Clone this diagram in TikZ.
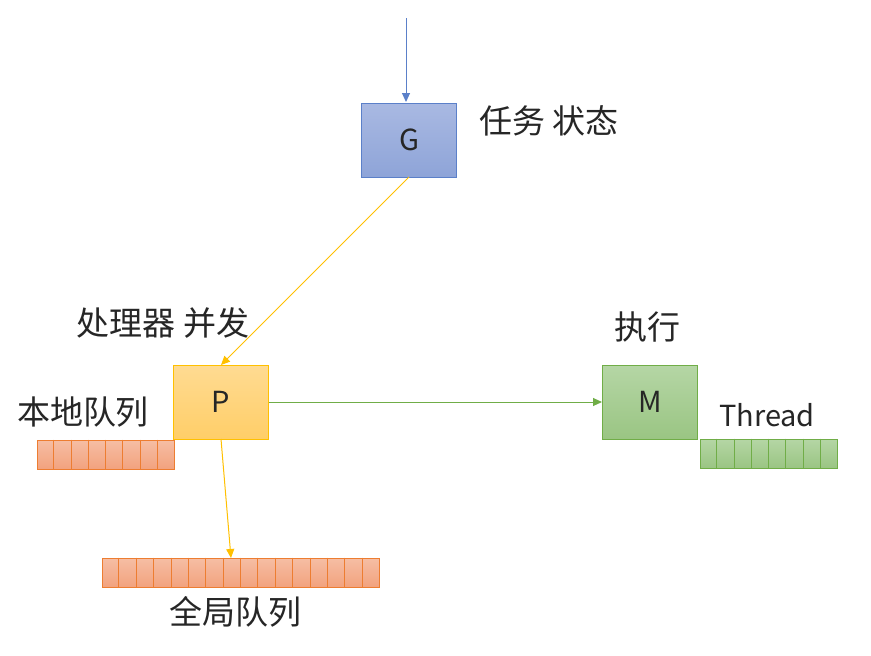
\documentclass[tikz,border=0pt]{standalone}
\usepackage{fontspec}
\setmainfont{Noto Sans CJK SC}
\usetikzlibrary{arrows.meta,calc}
\definecolor{gtop}{HTML}{A9B9E2}
\definecolor{gbot}{HTML}{8EA4D8}
\definecolor{gbord}{HTML}{5B80C9}
\definecolor{ptop}{HTML}{FFDB92}
\definecolor{pbot}{HTML}{FFCE68}
\definecolor{pbord}{HTML}{FFC000}
\definecolor{mtop}{HTML}{B5D6A5}
\definecolor{mbot}{HTML}{9AC583}
\definecolor{mbord}{HTML}{70AD47}
\definecolor{qtop}{HTML}{F6BEA4}
\definecolor{qbot}{HTML}{F2A27E}
\definecolor{qbord}{HTML}{ED7D31}
\definecolor{txt}{HTML}{262626}
\begin{document}
\begin{tikzpicture}[x=1pt,y=-1pt,
  box/.style={draw, line width=1pt, minimum width=95pt, minimum height=74pt, inner sep=0pt, font=\fontsize{29}{32}\selectfont, text=txt},
  lbl/.style={font=\fontsize{33}{36}\selectfont, text=txt, inner sep=0pt},
  latlbl/.style={font=\fontsize{29}{32}\selectfont, text=txt, inner sep=0pt},
  queue/.style={draw=qbord, line width=1pt, top color=qtop, bottom color=qbot, inner sep=0pt, minimum height=29pt},
  gqueue/.style={draw=mbord, line width=1pt, top color=mtop, bottom color=mbot, inner sep=0pt, minimum height=29pt},
  arr/.style={line width=1pt, -{Triangle[length=9pt,width=8pt]}}
]
\path[fill=white] (0,0) rectangle (871,656);
\useasboundingbox (0,0) rectangle (871,656);

\node[box, draw=gbord, top color=gtop, bottom color=gbot] (G) at (409,140) {G};
\node[box, draw=pbord, top color=ptop, bottom color=pbot] (P) at (221,402) {P};
\node[box, draw=mbord, top color=mtop, bottom color=mbot] (M) at (650,402) {M};

\node[lbl, anchor=west] (lg) at (479,121) {任务 状态};
\node[lbl] (lp) at (163,323) {处理器 并发};
\node[lbl] (lm) at (647,327) {执行};
\node[latlbl] (lt) at (767,415) {Thread};
\node[lbl] (ll) at (83,412) {本地队列};
\node[lbl] (lq) at (235,612) {全局队列};

% local queue
\node[queue, minimum width=137pt] (lq8) at (105.5,454.5) {};
\foreach \i in {1,...,7}
  \draw[qbord, line width=1pt] ($(lq8.north west)!\i/8!(lq8.north east)$) -- ($(lq8.south west)!\i/8!(lq8.south east)$);

% global queue
\node[queue, minimum width=277pt] (gq) at (240.5,572.5) {};
\foreach \i in {1,...,15}
  \draw[qbord, line width=1pt] ($(gq.north west)!\i/16!(gq.north east)$) -- ($(gq.south west)!\i/16!(gq.south east)$);

% thread queue
\node[gqueue, minimum width=137pt] (tq) at (768.5,453.5) {};
\foreach \i in {1,...,7}
  \draw[mbord, line width=1pt] ($(tq.north west)!\i/8!(tq.north east)$) -- ($(tq.south west)!\i/8!(tq.south east)$);

\coordinate (top) at (406,18);
\coordinate (gin) at (406,102);
\coordinate (gout) at (409,177);
\coordinate (pin) at (221,365);
\coordinate (pout) at (221,439);
\coordinate (gqin) at (231,558);

\draw[arr, gbord] (top) -- (gin);
\draw[arr, pbord] (gout) -- (pin);
\draw[arr, mbord] (P.east) -- (M.west);
\draw[arr, pbord] (pout) -- (gqin);
\end{tikzpicture}
\end{document}
